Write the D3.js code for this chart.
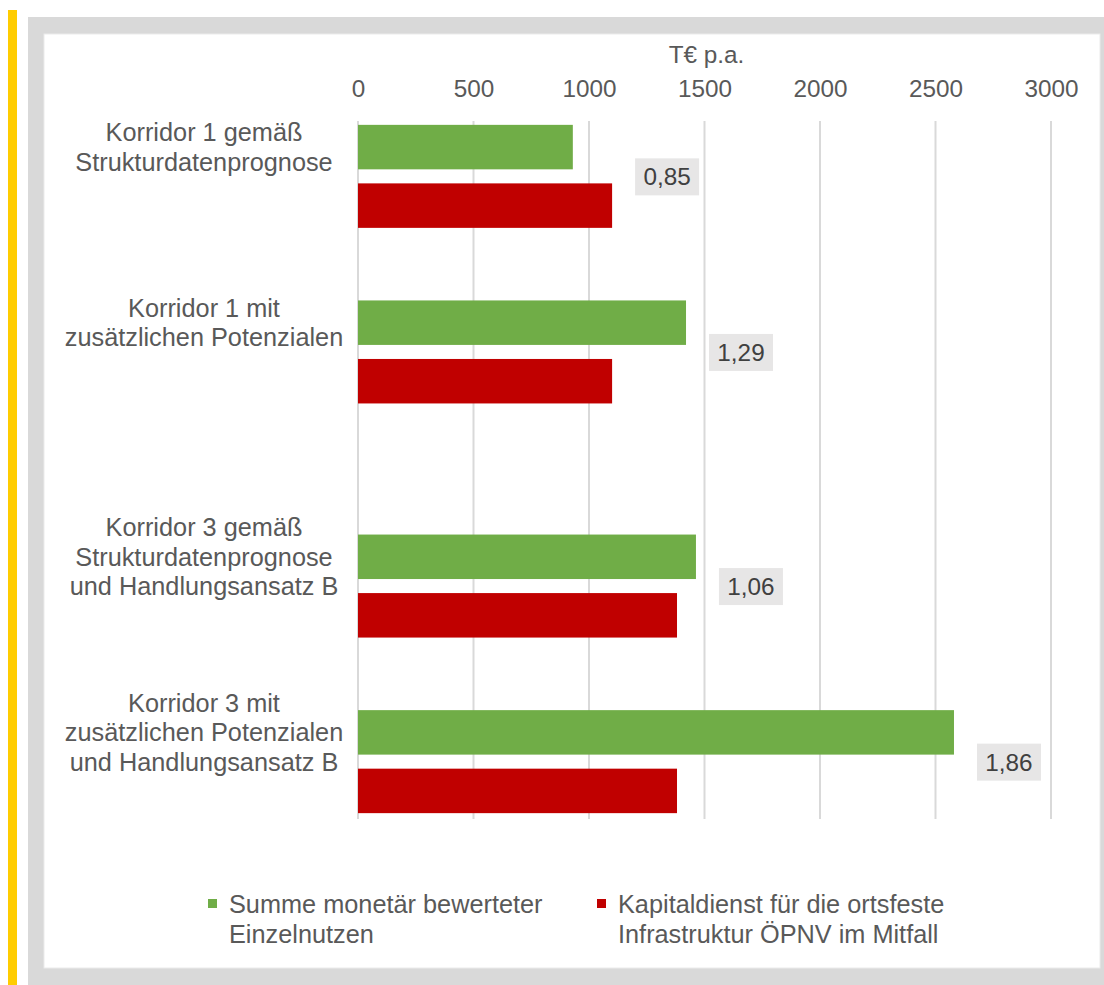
<!doctype html>
<html lang="de">
<head>
 <meta charset="utf-8">
 <script src="https://cdn.jsdelivr.net/npm/d3@7"></script>
 <title>Korridore Nutzen / Kapitaldienst</title>
 <style>
  body { margin: 0; background: #fff; }
  text { font-family: "Liberation Sans", Arial, sans-serif; fill: #595959; }
 </style>
</head>
<body>
<div id="chart"></div>

<script>
    // Data
    var categories = [
        ["Korridor 1 gemäß", "Strukturdatenprognose"],
        ["Korridor 1 mit", "zusätzlichen Potenzialen"],
        ["Korridor 3 gemäß", "Strukturdatenprognose", "und Handlungsansatz B"],
        ["Korridor 3 mit", "zusätzlichen Potenzialen", "und Handlungsansatz B"]
    ];
    var nutzen      = [930, 1420, 1463, 2580];
    var kapital     = [1100, 1100, 1381, 1381];
    var ratioLabels = ["0,85", "1,29", "1,06", "1,86"];
    var xTicks      = [0, 500, 1000, 1500, 2000, 2500, 3000];
    var axisTitle   = "T€ p.a.";
    var seriesNames = [
        ["Summe monetär bewerteter", "Einzelnutzen"],
        ["Kapitaldienst für die ortsfeste", "Infrastruktur ÖPNV im Mitfall"]
    ];
    var colors = ["#70ad47", "#c00000"];

    // layout: first row of each group in a 12 row grid (empty rows between)
    var groupRow = [0, 3, 7, 10];

    var width = 1104, height = 985;

    var svg = d3.select("#chart").append("svg")
        .attr("width", width)
        .attr("height", height);

    // frame
    svg.append("rect").attr("x", 8).attr("y", 10).attr("width", 9).attr("height", height - 10)
        .attr("fill", "#ffcc00");
    svg.append("rect").attr("x", 28).attr("y", 17).attr("width", width - 28).attr("height", height - 17)
        .attr("fill", "#d9d9d9");
    svg.append("rect").attr("x", 44).attr("y", 34).attr("width", 1056).attr("height", 934)
        .attr("fill", "#fff").attr("stroke", "#ebebeb");

    var x = d3.scaleLinear().domain([0, 3000]).range([358, 1051]);
    var row = d3.scaleBand().domain(d3.range(12)).range([119, 819])
        .paddingInner(0.24).paddingOuter(0.1);

    // gridlines
    svg.selectAll(".grid").data(xTicks).enter().append("line")
        .attr("class", "grid")
        .attr("x1", function (d) { return x(d); })
        .attr("x2", function (d) { return x(d); })
        .attr("y1", 121)
        .attr("y2", 819)
        .attr("stroke", "#d9d9d9")
        .attr("stroke-width", 2);

    // tick labels on top
    var xAxis = d3.axisTop(x).tickValues(xTicks).tickSize(0).tickPadding(0)
        .tickFormat(function (d) { return d; });
    var ax = svg.append("g").attr("transform", "translate(0,97)").call(xAxis);
    ax.select(".domain").remove();
    ax.selectAll("text")
        .attr("font-size", 24.3)
        .attr("fill", "#595959")
        .attr("dy", 0)
        .style("font-family", "'Liberation Sans', Arial, sans-serif");

    svg.append("text")
        .attr("x", x(1500) + 2)
        .attr("y", 63)
        .attr("text-anchor", "middle")
        .attr("font-size", 24.3)
        .text(axisTitle);

    // bars
    var groups = svg.selectAll(".grp").data(categories).enter().append("g").attr("class", "grp");

    groups.append("rect")
        .attr("x", x(0))
        .attr("y", function (d, i) { return row(groupRow[i]); })
        .attr("width", function (d, i) { return x(nutzen[i]) - x(0); })
        .attr("height", row.bandwidth())
        .attr("fill", colors[0]);

    groups.append("rect")
        .attr("x", x(0))
        .attr("y", function (d, i) { return row(groupRow[i] + 1); })
        .attr("width", function (d, i) { return x(kapital[i]) - x(0); })
        .attr("height", row.bandwidth())
        .attr("fill", colors[1]);

    // category labels, centred on the green bar
    var lh = 29.5;
    groups.append("text")
        .attr("text-anchor", "middle")
        .attr("font-size", 25.3)
        .each(function (d, i) {
            var cy = row(groupRow[i]) + row.bandwidth() / 2;
            var y0 = cy - (d.length - 1) * lh / 2 + 9;
            d3.select(this).selectAll("tspan").data(d).enter().append("tspan")
                .attr("x", 204)
                .attr("y", function (t, j) { return y0 + j * lh; })
                .text(function (t) { return t; });
        });

    // ratio boxes
    groups.each(function (d, i) {
        var g = d3.select(this);
        var bx = x(Math.max(nutzen[i], kapital[i])) + 23;
        var cy = (row(groupRow[i]) + row(groupRow[i] + 1) + row.bandwidth()) / 2;
        g.append("rect")
            .attr("x", bx)
            .attr("y", cy - 18)
            .attr("width", 64)
            .attr("height", 37)
            .attr("fill", "#e7e6e6");
        g.append("text")
            .attr("x", bx + 32)
            .attr("y", cy + 9)
            .attr("text-anchor", "middle")
            .attr("font-size", 24.3)
            .style("fill", "#404040")
            .text(ratioLabels[i]);
    });

    // legend
    var legendX = [208, 597];
    var legend = svg.selectAll(".legend").data(seriesNames).enter().append("g")
        .attr("class", "legend")
        .attr("transform", function (d, i) { return "translate(" + legendX[i] + ",0)"; });

    legend.append("rect")
        .attr("x", 0).attr("y", 899)
        .attr("width", 9).attr("height", 9)
        .attr("fill", function (d, i) { return colors[i]; });

    legend.append("text")
        .attr("font-size", 25.3)
        .selectAll("tspan").data(function (d) { return d; }).enter().append("tspan")
        .attr("x", 21)
        .attr("y", function (t, j) { return 913 + j * 29.5; })
        .text(function (t) { return t; });
</script>
</body>
</html>
